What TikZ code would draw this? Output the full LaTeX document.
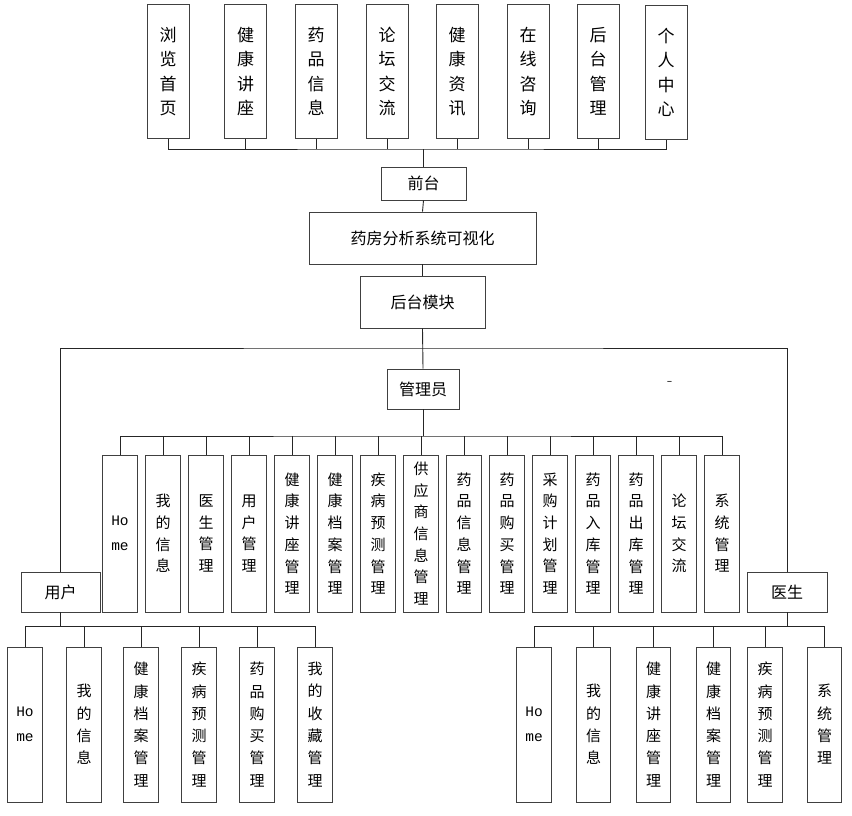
\documentclass[tikz,border=0pt]{standalone}
\usepackage{fontspec}
\newfontfamily\cjk{Noto Sans CJK SC}
\newfontfamily\monofnt{Liberation Mono}
\begin{document}
\begin{tikzpicture}[x=1pt,y=-1pt,
 box/.style={draw=black!75, line width=0.9pt, fill=white, inner sep=0pt, align=center},
 topbox/.style={box, minimum width=42pt, minimum height=134pt, font=\cjk\fontsize{17}{24.5}\selectfont},
 adbox/.style={box, minimum width=34.5pt, minimum height=157pt, font=\cjk\fontsize{15}{21.7}\selectfont},
 lowbox/.style={box, minimum width=34.5pt, minimum height=155pt, font=\cjk\fontsize{15}{22.3}\selectfont},
 labbox/.style={box, font=\cjk\fontsize{16}{19}\selectfont},
 homefont/.style={font=\monofnt\fontsize{14.5}{25}\selectfont},
 conn/.style={draw=black!85, line width=0.9pt}]
\useasboundingbox (0,0) rectangle (852,815);

% top row
\node[topbox] (t1) at (168,71.5) {浏\\览\\首\\页};
\node[topbox] (t2) at (245.5,71.5) {健\\康\\讲\\座};
\node[topbox] (t3) at (316,71.5) {药\\品\\信\\息};
\node[topbox] (t4) at (387,71.5) {论\\坛\\交\\流};
\node[topbox] (t5) at (457,71.5) {健\\康\\资\\讯};
\node[topbox] (t6) at (528,71.5) {在\\线\\咨\\询};
\node[topbox] (t7) at (598,71.5) {后\\台\\管\\理};
\node[topbox] (t8) at (666,72.5) {个\\人\\中\\心};

% central chain
\node[labbox, minimum width=85pt, minimum height=33pt] (qt) at (423.5,183.5) {前台};
\node[labbox, minimum width=227pt, minimum height=52pt] (sys) at (422.5,238) {药房分析系统可视化};
\node[labbox, minimum width=125pt, minimum height=52pt] (ht) at (422.5,302) {后台模块};
\node[labbox, minimum width=72pt, minimum height=40pt] (adm) at (423,389) {管理员};
\node[labbox, minimum width=79pt, minimum height=40pt] (usr) at (60.5,592) {用户};
\node[labbox, minimum width=80pt, minimum height=40pt] (doc) at (787,592) {医生};
\node[font=\fontsize{17}{19}\selectfont, inner sep=0pt] (dash) at (670,383) {-};

% admin row
\node[adbox, homefont] (a1) at (120,533.5) {Ho\\me};
\node[adbox] (a2) at (163,533.5) {我\\的\\信\\息};
\node[adbox] (a3) at (206,533.5) {医\\生\\管\\理};
\node[adbox] (a4) at (249,533.5) {用\\户\\管\\理};
\node[adbox] (a5) at (292,533.5) {健\\康\\讲\\座\\管\\理};
\node[adbox] (a6) at (335,533.5) {健\\康\\档\\案\\管\\理};
\node[adbox] (a7) at (378,533.5) {疾\\病\\预\\测\\管\\理};
\node[adbox] (a8) at (421,533.5) {供\\应\\商\\信\\息\\管\\理};
\node[adbox] (a9) at (464,533.5) {药\\品\\信\\息\\管\\理};
\node[adbox] (a10) at (507,533.5) {药\\品\\购\\买\\管\\理};
\node[adbox] (a11) at (550,533.5) {采\\购\\计\\划\\管\\理};
\node[adbox] (a12) at (593,533.5) {药\\品\\入\\库\\管\\理};
\node[adbox] (a13) at (636,533.5) {药\\品\\出\\库\\管\\理};
\node[adbox] (a14) at (679,533.5) {论\\坛\\交\\流};
\node[adbox] (a15) at (722,533.5) {系\\统\\管\\理};

% user row
\node[lowbox, homefont] (u1) at (25,724.5) {Ho\\me};
\node[lowbox] (u2) at (84,724.5) {我\\的\\信\\息};
\node[lowbox] (u3) at (141,724.5) {健\\康\\档\\案\\管\\理};
\node[lowbox] (u4) at (199,724.5) {疾\\病\\预\\测\\管\\理};
\node[lowbox] (u5) at (257,724.5) {药\\品\\购\\买\\管\\理};
\node[lowbox] (u6) at (315,724.5) {我\\的\\收\\藏\\管\\理};

% doctor row
\node[lowbox, homefont] (d1) at (534,724.5) {Ho\\me};
\node[lowbox] (d2) at (593.5,724.5) {我\\的\\信\\息};
\node[lowbox] (d3) at (653.5,724.5) {健\\康\\讲\\座\\管\\理};
\node[lowbox] (d4) at (713.5,724.5) {健\\康\\档\\案\\管\\理};
\node[lowbox] (d5) at (765,724.5) {疾\\病\\预\\测\\管\\理};
\node[lowbox] (d6) at (824.5,724.5) {系\\统\\管\\理};

% bus coordinates
\coordinate (tbus) at (423.5,149);
\coordinate (mbus) at (423,348);
\coordinate (abus) at (423,436);
\coordinate (ubus) at (60.5,626.5);
\coordinate (dbus) at (787,626.5);

% top connectors
\draw[conn] (t1.south) |- (tbus) -| (t8.south);
\foreach \n in {t2,t3,t4,t5,t6,t7} \draw[conn] (\n.south) -- (\n.south |- tbus);
\draw[conn] (tbus) -- (qt.north);
\draw[conn] (qt.south) -- (sys.north);
\draw[conn] (sys.south) -- (ht.north);
\draw[conn] (ht.south) -- (adm.north);
\draw[conn] (usr.north) |- (mbus) -| (doc.north);

% admin connectors
\draw[conn] (adm.south) -- (abus);
\draw[conn] (a1.north) |- (abus) -| (a15.north);
\foreach \n in {a2,a3,a4,a5,a6,a7,a8,a9,a10,a11,a12,a13,a14} \draw[conn] (\n.north) -- (\n.north |- abus);

% user connectors
\draw[conn] (usr.south) -- (ubus);
\draw[conn] (u1.north) |- (ubus) -| (u6.north);
\foreach \n in {u2,u3,u4,u5} \draw[conn] (\n.north) -- (\n.north |- ubus);

% doctor connectors
\draw[conn] (doc.south) -- (dbus);
\draw[conn] (d1.north) |- (dbus) -| (d6.north);
\foreach \n in {d2,d3,d4,d5} \draw[conn] (\n.north) -- (\n.north |- dbus);
\end{tikzpicture}
\end{document}
